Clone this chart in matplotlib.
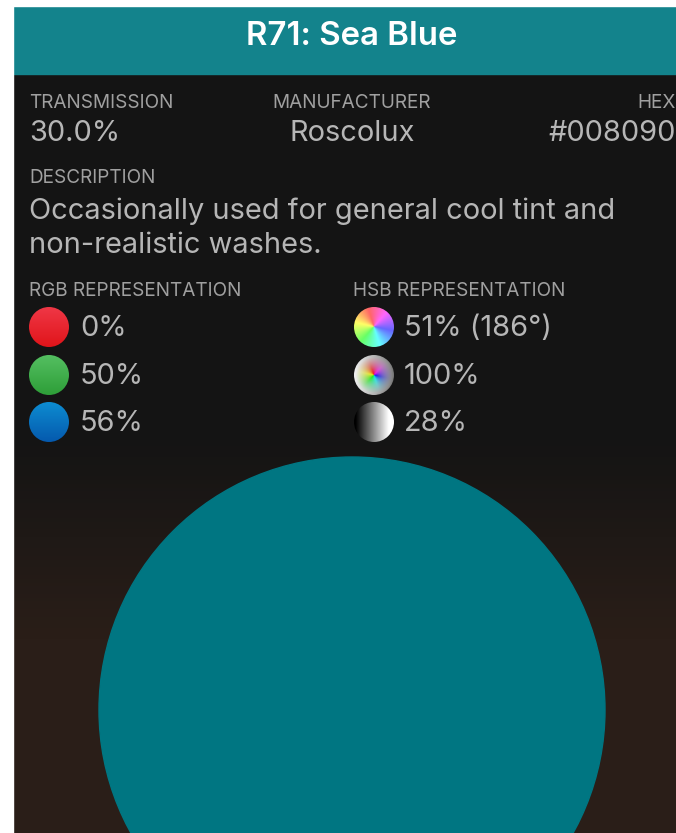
import matplotlib
matplotlib.use("Agg")
import matplotlib.pyplot as plt
import numpy as np
from matplotlib.patches import Circle, Rectangle
from matplotlib.colors import hsv_to_rgb

plt.rcParams['font.family'] = ['Inter', 'DejaVu Sans']

title = "R71: Sea Blue"
field_labels = ["TRANSMISSION", "MANUFACTURER", "HEX"]
field_values = ["30.0%", "Roscolux", "#008090"]
description = ["Occasionally used for general cool tint and", "non-realistic washes."]
rgb_values = ["0%", "50%", "56%"]
hsb_values = ["51% (186°)", "100%", "28%"]
swatch_color = "#007682"

W, H = 676, 833
fig = plt.figure(figsize=(W / 100, H / 100), dpi=100)
ax = fig.add_axes([0, 0, 1, 1])
ax.set_xlim(0, W)
ax.set_ylim(H, 0)
ax.axis("off")

def px(v):
    return v * 0.72

# background gradient: dark grey on top, brownish below
ys = np.linspace(0, 1, 200)[:, None]
top = np.array([0x14, 0x14, 0x14]) / 255
bot = np.array([0x2a, 0x1e, 0x18]) / 255
t = np.clip((ys * H - 400) / 220, 0, 1)
bg = top + (bot - top) * t
bg = np.repeat(bg[:, None, :], 2, axis=1).reshape(200, 2, 3)
ax.imshow(bg, extent=[13, W, H, 74], aspect="auto", zorder=0)

# header
ax.add_patch(Rectangle((13, 6), W - 13, 68, color="#13838c", zorder=1))
ax.text(352, 36, title, color="white", fontsize=px(33), fontweight="semibold",
        ha="center", va="center", zorder=3)

lab_col = "#a0a0a0"
val_col = "#b6b6b6"
lab_size = px(19)
val_size = px(29)
xs = [29, 352, 676]
has = ["left", "center", "right"]
for lab, val, x, ha in zip(field_labels, field_values, xs, has):
    ax.text(x, 102.5, lab, color=lab_col, fontsize=lab_size, ha=ha, va="center",
            zorder=3)
    ax.text(x, 133, val, color=val_col, fontsize=val_size, ha=ha, va="center",
            zorder=3)

ax.text(29, 178, "DESCRIPTION", color=lab_col, fontsize=lab_size, ha="left",
        va="center", zorder=3)
for i, line in enumerate(description):
    ax.text(29, 211.5 + 34 * i, line, color=val_col, fontsize=val_size,
            ha="left", va="center", zorder=3)

ax.text(29, 291, "RGB REPRESENTATION", color=lab_col, fontsize=lab_size,
        ha="left", va="center", zorder=3)
ax.text(353, 291, "HSB REPRESENTATION", color=lab_col, fontsize=lab_size,
        ha="left", va="center", zorder=3)

row_y = [327, 375, 422]
r = 20

def disc_image(cx, cy, img):
    im = ax.imshow(img, extent=[cx - r, cx + r, cy + r, cy - r], zorder=2,
                   interpolation="bilinear")
    im.set_clip_path(Circle((cx, cy), r, transform=ax.transData))

n = 120
gy, gx = np.mgrid[-1:1:n * 1j, -1:1:n * 1j]

# RGB discs with a soft vertical gradient
rgb_top = [(0.94, 0.22, 0.28), (0.33, 0.75, 0.38), (0.05, 0.55, 0.82)]
rgb_bot = [(0.88, 0.08, 0.10), (0.18, 0.62, 0.22), (0.02, 0.35, 0.68)]
for y, c0, c1, val in zip(row_y, rgb_top, rgb_bot, rgb_values):
    tt = (gy + 1) / 2
    img = np.array(c0)[None, None, :] * (1 - tt[..., None]) + np.array(c1)[None, None, :] * tt[..., None]
    disc_image(49, y, img)
    ax.text(80, y + 1.5, val, color=val_col, fontsize=val_size, ha="left",
            va="center", zorder=3)

# HSB discs
ang = (np.arctan2(gx, -gy) / (2 * np.pi)) % 1.0
rad = np.clip(np.hypot(gx, gy), 0, 1)
hue = (0.95 - ang) % 1.0
wheel = hsv_to_rgb(np.dstack([hue, np.full_like(hue, 0.6), np.ones_like(hue)]))
sat_wheel = hsv_to_rgb(np.dstack([hue, np.clip(1 - rad * 1.1, 0, 1), 0.95 - 0.5 * rad * (gx + 1) / 2]))
bright = np.repeat(np.clip((gx + 1) / 2 * 1.2 - 0.05, 0, 1)[..., None], 3, axis=2)
for y, img, val in zip(row_y, [wheel, sat_wheel, bright], hsb_values):
    disc_image(374, y, img)
    ax.text(404, y + 1.5, val, color=val_col, fontsize=val_size, ha="left",
            va="center", zorder=3)

# colour swatch
ax.add_patch(Circle((352, 710), 253, color=swatch_color, zorder=2))

# white margins
ax.add_patch(Rectangle((0, 0), 13, H, color="white", zorder=4))
ax.add_patch(Rectangle((0, 0), W, 6, color="white", zorder=4))

fig.savefig("out.png", dpi=100, facecolor="white")
